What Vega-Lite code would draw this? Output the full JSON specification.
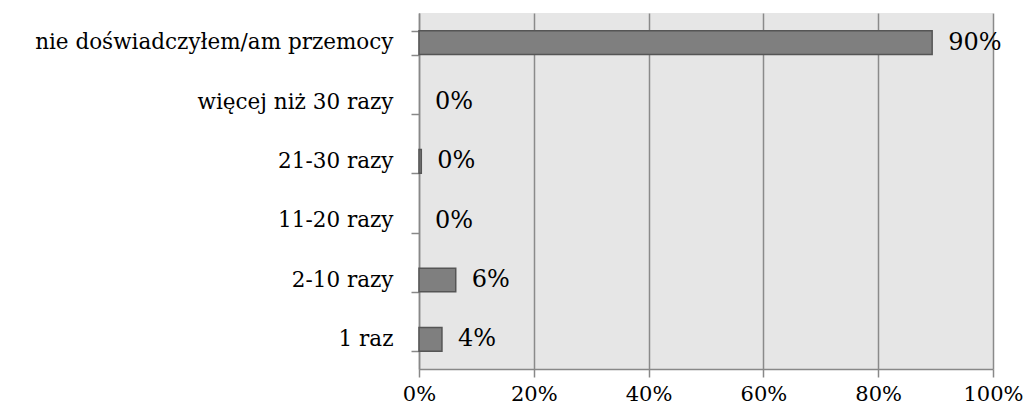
{
  "$schema": "https://vega.github.io/schema/vega-lite/v6.json",
  "width": 574,
  "height": 356,
  "autosize": "none",
  "padding": {"left": 419, "top": 13, "right": 35, "bottom": 43},
  "background": "white",
  "config": {
    "view": {"fill": "#e6e6e6", "stroke": null},
    "font": "DejaVu Serif"
  },
  "data": {
    "values": [
      {"kategoria": "nie doświadczyłem/am przemocy", "wartosc": 0.894, "etykieta": "90%"},
      {"kategoria": "więcej niż 30 razy", "wartosc": 0.0, "etykieta": "0%"},
      {"kategoria": "21-30 razy", "wartosc": 0.004, "etykieta": "0%"},
      {"kategoria": "11-20 razy", "wartosc": 0.0, "etykieta": "0%"},
      {"kategoria": "2-10 razy", "wartosc": 0.064, "etykieta": "6%"},
      {"kategoria": "1 raz", "wartosc": 0.04, "etykieta": "4%"}
    ]
  },
  "encoding": {
    "y": {
      "field": "kategoria",
      "type": "nominal",
      "sort": ["nie doświadczyłem/am przemocy", "więcej niż 30 razy", "21-30 razy", "11-20 razy", "2-10 razy", "1 raz"],
      "scale": {"paddingInner": 0.6, "paddingOuter": 0.3},
      "axis": {
        "title": null,
        "tickBand": "extent",
        "domainColor": "#888888",
        "domainWidth": 1.5,
        "tickColor": "#888888",
        "tickWidth": 1.5,
        "tickSize": 8,
        "labelPadding": 18,
        "labelFontSize": 21.5,
        "labelLimit": 0,
        "labelColor": "#000000",
        "labelFont": "DejaVu Serif",
        "grid": false
      }
    },
    "x": {
      "field": "wartosc",
      "type": "quantitative",
      "scale": {"domain": [0, 1], "nice": false},
      "axis": {
        "title": null,
        "format": ".0%",
        "values": [0, 0.2, 0.4, 0.6, 0.8, 1],
        "grid": true,
        "gridColor": "#8a8a8a",
        "gridWidth": 1.5,
        "domainColor": "#888888",
        "domainWidth": 1.5,
        "tickColor": "#888888",
        "tickWidth": 1.5,
        "tickSize": 8,
        "labelPadding": 6,
        "labelFontSize": 21,
        "labelColor": "#000000",
        "labelFont": "DejaVu Serif",
        "labelFlush": false
      }
    }
  },
  "layer": [
    {
      "transform": [{"filter": "datum.wartosc > 0"}],
      "mark": {"type": "bar", "fill": "#7f7f7f", "stroke": "#555555", "strokeWidth": 1.5}
    },
    {
      "mark": {"type": "text", "align": "left", "baseline": "middle", "dx": 16, "fontSize": 24, "color": "#000000", "font": "DejaVu Serif"},
      "encoding": {"text": {"field": "etykieta"}}
    }
  ]
}
